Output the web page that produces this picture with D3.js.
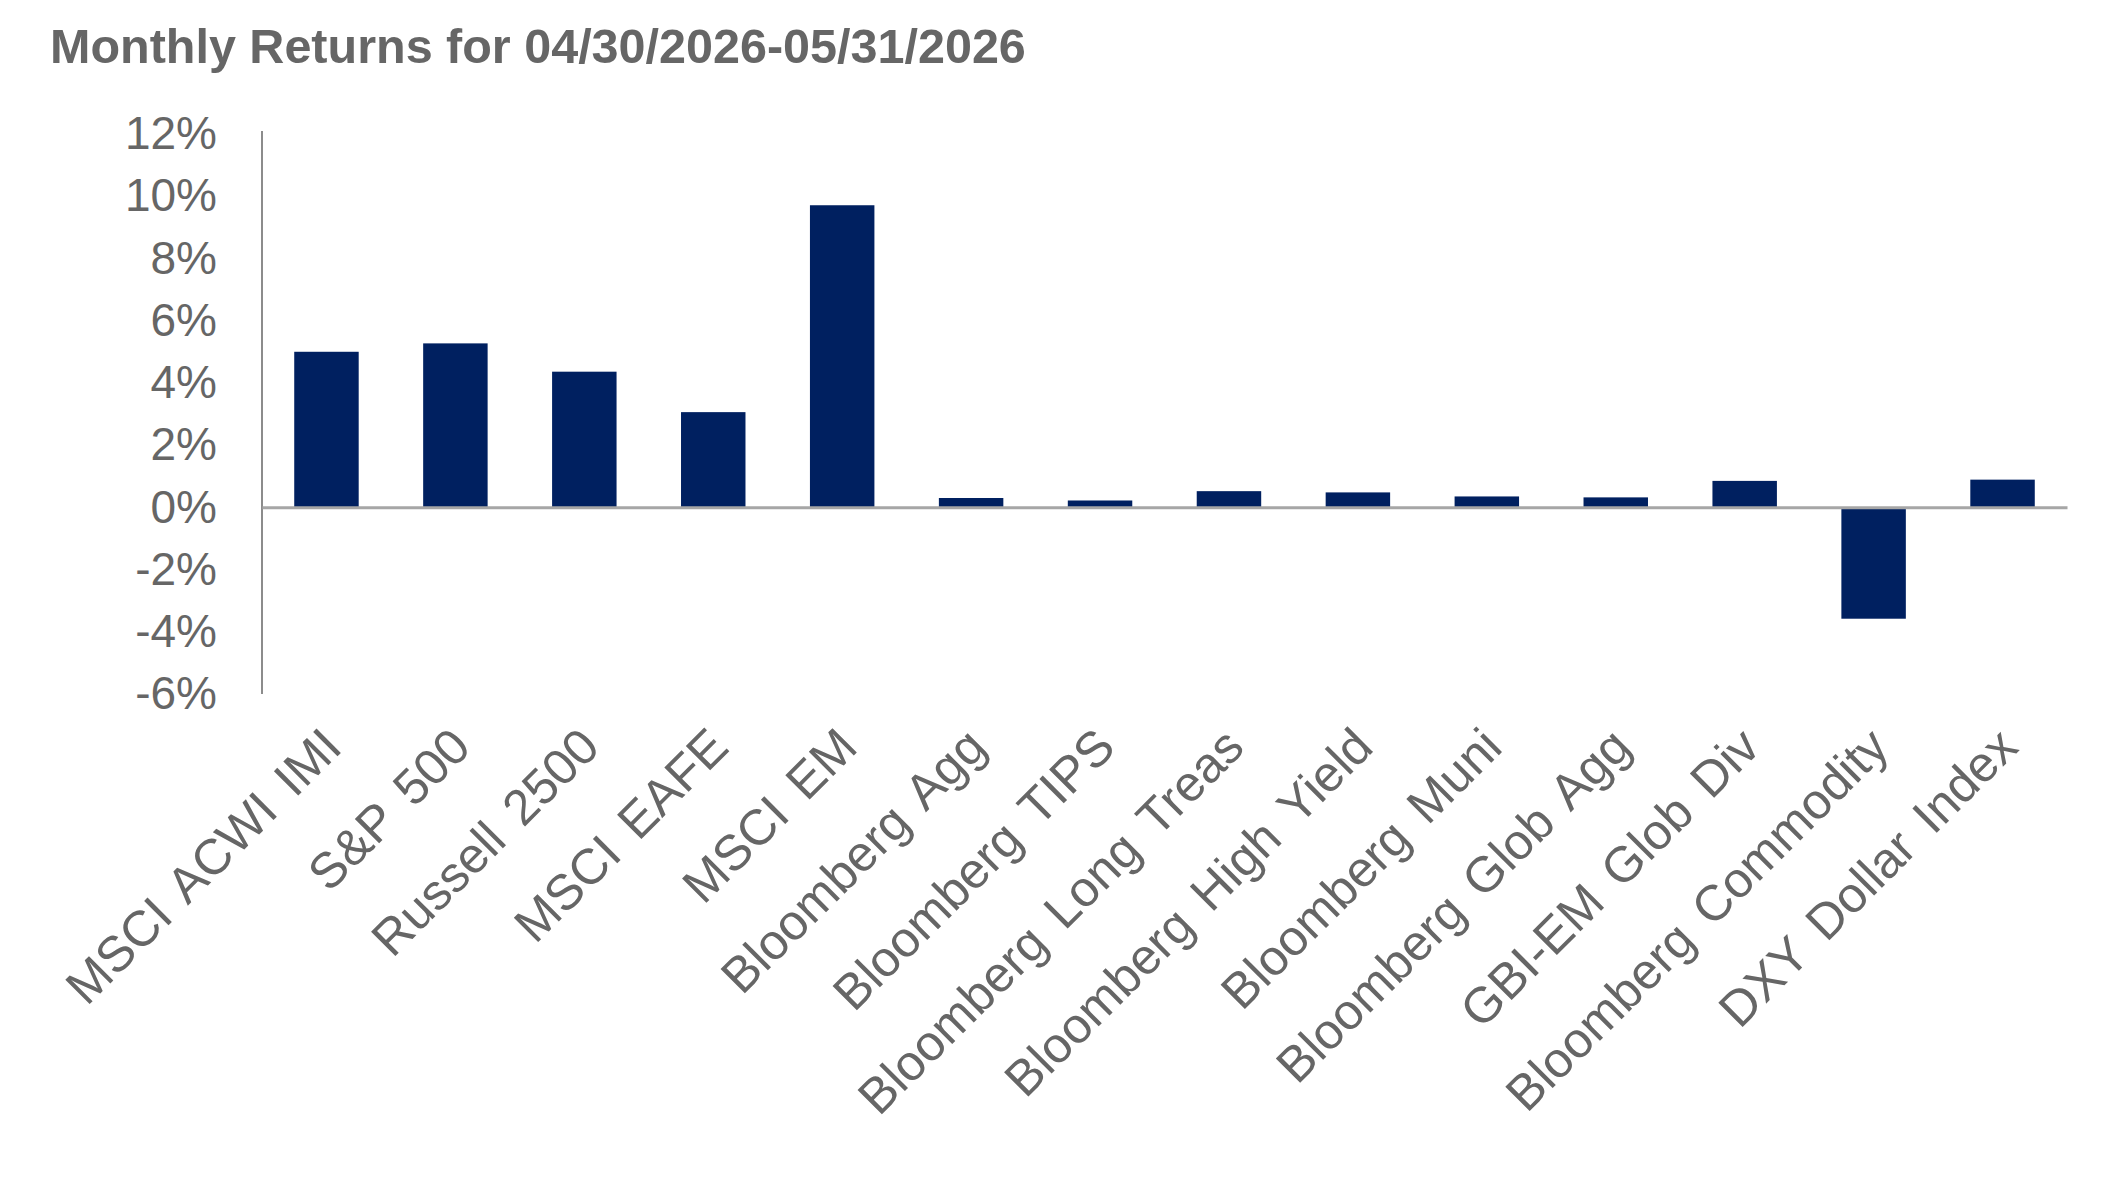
<!DOCTYPE html>
<meta charset="utf-8">
<script src="https://d3js.org/d3.v7.min.js"></script>
<style>
  body { margin: 0; background: #fff; }
  text { font-family: "Liberation Sans", Arial, sans-serif; }
</style>
<div id="chart"></div>
<script>
    const categories = ["MSCI ACWI IMI", "S&P 500", "Russell 2500", "MSCI EAFE", "MSCI EM",
        "Bloomberg Agg", "Bloomberg TIPS", "Bloomberg Long Treas", "Bloomberg High Yield",
        "Bloomberg Muni", "Bloomberg Glob Agg", "GBI-EM Glob Div", "Bloomberg Commodity", "DXY Dollar Index"];
    const returns = [5.0, 5.27, 4.36, 3.06, 9.71, 0.30, 0.22, 0.52, 0.48, 0.35, 0.32, 0.85, -3.58, 0.89];
    const yTicks = [12, 10, 8, 6, 4, 2, 0, -2, -4, -6];
    const title = "Monthly Returns for 04/30/2026-05/31/2026";

    const W = 2105, H = 1184;
    const margin = {top: 134, right: 38, bottom: 490, left: 262},
        width = W - margin.left - margin.right,
        height = H - margin.top - margin.bottom;

    const textColor = "#666666";

    const root = d3.select("#chart")
    .append("svg")
        .attr("width", W)
        .attr("height", H);

    root.append("text")
        .attr("x", 50)
        .attr("y", 63)
        .attr("fill", textColor)
        .attr("font-size", 48.5)
        .attr("font-weight", "bold")
        .text(title);

    const svg = root.append("g")
        .attr("transform", `translate(${margin.left}, ${margin.top})`);

    const x = d3.scaleBand()
        .domain(categories)
        .range([0, width])
        .paddingInner(0.5)
        .paddingOuter(0.25);

    const y = d3.scaleLinear()
        .domain([-6, 12])
        .range([height, 0]);

    // y axis
    const yAxis = svg.append("g")
        .call(d3.axisLeft(y).tickValues(yTicks).tickSize(0).tickPadding(45).tickFormat(d => d + "%"));
    yAxis.select(".domain").attr("stroke", "#8c8c8c").attr("stroke-width", 2)
        .attr("d", `M0,-3V${height}`);
    yAxis.selectAll("text")
        .attr("fill", textColor)
        .attr("font-size", 46)
        .attr("font-family", "Liberation Sans, Arial, sans-serif");

    // bars
    svg.selectAll("rect.bar")
        .data(returns)
        .join("rect")
            .attr("class", "bar")
            .attr("x", (d, i) => x(categories[i]))
            .attr("width", x.bandwidth())
            .attr("y", d => y(Math.max(0, d)))
            .attr("height", d => Math.abs(y(d) - y(0)))
            .attr("fill", "#002060");

    // zero line with category labels
    const xAxis = svg.append("g")
        .attr("transform", `translate(0, ${y(0)})`)
        .call(d3.axisBottom(x).tickSize(0));
    xAxis.select(".domain").attr("stroke", "#a6a6a6").attr("stroke-width", 3);
    xAxis.selectAll("text")
        .attr("fill", textColor)
        .attr("font-size", 50)
        .attr("word-spacing", 7)
        .attr("font-family", "Liberation Sans, Arial, sans-serif")
        .attr("text-anchor", "end")
        .attr("dy", null)
        .attr("dominant-baseline", "hanging")
        .attr("transform", `translate(-10, ${height - y(0) + 28}) rotate(-45)`);
</script>
